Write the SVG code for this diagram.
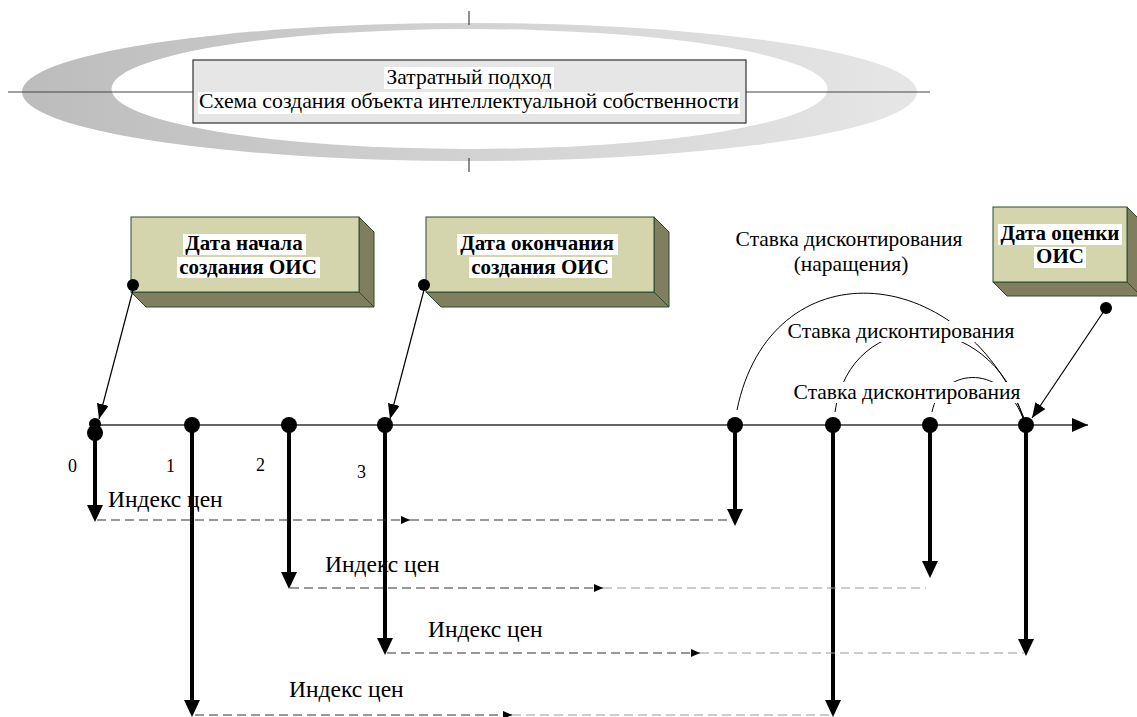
<svg xmlns="http://www.w3.org/2000/svg" width="1137" height="717" viewBox="0 0 1137 717">
<style>
.ser{font-family:"Liberation Serif","DejaVu Serif","Times New Roman",serif;fill:#000}
.t20{font-size:21.5px}
.b20{font-size:21px;font-weight:bold}
.lbl{font-size:21.5px}
.idx{font-size:23.5px}
.num{font-size:18px}
.face{fill:#d5d5ad;stroke:#2e4a2e;stroke-width:1}
.side{fill:#7f7f60;stroke:#2e4a2e;stroke-width:1}
.thick{stroke:#000;stroke-width:4;fill:none}
.ptr{stroke:#000;stroke-width:1.2;fill:none}
.dk{stroke:#333;stroke-width:1.2;stroke-dasharray:9 5;fill:none}
.lt{stroke:#999;stroke-width:1.2;stroke-dasharray:9 5;fill:none}
.arc{stroke:#000;stroke-width:1;fill:none}
.wb{fill:#fff}
</style>
<defs>
<linearGradient id="eg" x1="0" y1="0" x2="1" y2="0">
<stop offset="0" stop-color="#bcbcbc"/>
<stop offset="0.5" stop-color="#d2d2d2"/>
<stop offset="1" stop-color="#e6e6e6"/>
</linearGradient>
<marker id="ah" markerUnits="userSpaceOnUse" markerWidth="17" markerHeight="16" refX="7" refY="8" orient="auto"><path d="M0,0 L17,8 L0,16 z" fill="#000"/></marker>
<marker id="ax" markerUnits="userSpaceOnUse" markerWidth="16" markerHeight="14" refX="16" refY="7" orient="auto"><path d="M0,0 L16,7 L0,14 z" fill="#000"/></marker>
<marker id="ap" markerUnits="userSpaceOnUse" markerWidth="15" markerHeight="12" refX="15" refY="6" orient="auto"><path d="M0,0 L15,6 L0,12 z" fill="#000"/></marker>
<marker id="am" markerUnits="userSpaceOnUse" markerWidth="9" markerHeight="8" refX="9" refY="4" orient="auto"><path d="M0,0 L9,4 L0,8 z" fill="#000"/></marker>
</defs>

<g id="header">
<ellipse cx="469.5" cy="92" rx="447.5" ry="69" fill="url(#eg)"/>
<ellipse cx="469.5" cy="89" rx="358" ry="60" fill="#fff"/>
<line x1="8" y1="92" x2="930" y2="92" stroke="#444" stroke-width="1.2"/>
<line x1="469" y1="11" x2="469" y2="25" stroke="#444" stroke-width="1.2"/>
<line x1="469" y1="158" x2="469" y2="172" stroke="#444" stroke-width="1.2"/>
<rect x="193" y="60" width="553" height="63" fill="#e6e6e6" stroke="#333" stroke-width="1.2"/>
<rect class="wb" x="384" y="67" width="170" height="22"/>
<rect class="wb" x="198" y="92" width="542" height="22"/>
<text class="ser t20" x="469" y="84" text-anchor="middle">Затратный подход</text>
<text class="ser t20" x="469" y="108" text-anchor="middle" textLength="540" lengthAdjust="spacingAndGlyphs">Схема создания объекта интеллектуальной собственности</text>
</g>

<g id="node-start">
<polygon class="side" points="131,292 146,307 374,307 359,292"/>
<polygon class="side" points="359,217 374,232 374,307 359,292"/>
<rect class="face" x="131" y="217" width="228" height="75"/>
<rect class="wb" x="183" y="234" width="123" height="21"/>
<rect class="wb" x="177" y="257" width="143" height="21"/>
<text class="ser b20" x="244" y="250" text-anchor="middle">Дата начала</text>
<text class="ser b20" x="248" y="274" text-anchor="middle">создания ОИС</text>
<circle cx="133" cy="285" r="6"/>
</g>

<g id="node-end">
<polygon class="side" points="426,292 441,307 669,307 654,292"/>
<polygon class="side" points="654,217 669,232 669,307 654,292"/>
<rect class="face" x="426" y="217" width="228" height="75"/>
<rect class="wb" x="457" y="234" width="161" height="21"/>
<rect class="wb" x="469" y="257" width="143" height="21"/>
<text class="ser b20" x="537" y="250" text-anchor="middle">Дата окончания</text>
<text class="ser b20" x="540" y="274" text-anchor="middle">создания ОИС</text>
<circle cx="424" cy="285" r="6"/>
</g>

<g id="node-valuation">
<polygon class="side" points="993,282 1007,296 1141,296 1127,282"/>
<polygon class="side" points="1127,207 1141,221 1141,296 1127,282"/>
<rect class="face" x="993" y="207" width="134" height="75"/>
<rect class="wb" x="998" y="224" width="124" height="21"/>
<rect class="wb" x="1034" y="247" width="52" height="21"/>
<text class="ser b20" x="1060" y="240" text-anchor="middle">Дата оценки</text>
<text class="ser b20" x="1060" y="263" text-anchor="middle">ОИС</text>
<circle cx="1106" cy="308" r="6"/>
</g>

<g id="connectors">
<line x1="95" y1="425" x2="1088" y2="425" stroke="#333" stroke-width="1.5" marker-end="url(#ax)"/>
<line class="ptr" x1="133" y1="290" x2="99" y2="419" marker-end="url(#ap)"/>
<line class="ptr" x1="424" y1="290" x2="390" y2="419" marker-end="url(#ap)"/>
<line class="ptr" x1="1106" y1="308" x2="1032" y2="418" marker-end="url(#ap)"/>
<path class="arc" d="M737,410 C770,248 960,258 1024,418"/>
<path class="arc" d="M835,412 C850,305 990,305 1023,418"/>
<path class="arc" d="M932,412 C940,370 1000,360 1023,418"/>
<line class="thick" x1="95" y1="432" x2="95" y2="512" marker-end="url(#ah)"/>
<line class="thick" x1="192" y1="425" x2="192" y2="707" marker-end="url(#ah)"/>
<line class="thick" x1="289" y1="425" x2="289" y2="579" marker-end="url(#ah)"/>
<line class="thick" x1="385" y1="425" x2="385" y2="645" marker-end="url(#ah)"/>
<line class="thick" x1="735" y1="425" x2="735" y2="516" marker-end="url(#ah)"/>
<line class="thick" x1="833" y1="425" x2="833" y2="707" marker-end="url(#ah)"/>
<line class="thick" x1="930" y1="425" x2="930" y2="568" marker-end="url(#ah)"/>
<line class="thick" x1="1026" y1="425" x2="1026" y2="646" marker-end="url(#ah)"/>
<line class="dk" x1="97" y1="520" x2="410" y2="520" marker-end="url(#am)"/>
<line class="dk" x1="410" y1="520" x2="733" y2="520"/>
<line class="dk" x1="290" y1="588" x2="603" y2="588" marker-end="url(#am)"/>
<line class="lt" x1="603" y1="588" x2="926" y2="588"/>
<line class="dk" x1="387" y1="653" x2="700" y2="653" marker-end="url(#am)"/>
<line class="lt" x1="700" y1="653" x2="1024" y2="653"/>
<line class="dk" x1="195" y1="715" x2="512" y2="715" marker-end="url(#am)"/>
<line class="lt" x1="512" y1="715" x2="831" y2="715"/>
</g>

<g id="timeline-points">
<circle cx="95" cy="424" r="6"/>
<circle cx="95" cy="433" r="8"/>
<circle cx="192" cy="425" r="8"/>
<circle cx="289" cy="425" r="8"/>
<circle cx="385" cy="425" r="8"/>
<circle cx="735" cy="425" r="8"/>
<circle cx="833" cy="425" r="8"/>
<circle cx="930" cy="425" r="8"/>
<circle cx="1026" cy="425" r="8"/>
</g>

<g id="labels">
<text class="ser num" x="68" y="472">0</text>
<text class="ser num" x="166" y="472">1</text>
<text class="ser num" x="256" y="471">2</text>
<text class="ser num" x="357" y="478">3</text>
<text class="ser idx" x="108" y="507">Индекс цен</text>
<text class="ser idx" x="325" y="572">Индекс цен</text>
<text class="ser idx" x="428" y="637">Индекс цен</text>
<text class="ser idx" x="289" y="697">Индекс цен</text>
<text class="ser lbl" x="849" y="246" text-anchor="middle">Ставка дисконтирования</text>
<text class="ser lbl" x="851" y="271" text-anchor="middle">(наращения)</text>
<rect class="wb" x="786" y="321" width="230" height="21"/>
<text class="ser lbl" x="901" y="338" text-anchor="middle">Ставка дисконтирования</text>
<rect class="wb" x="791" y="382" width="232" height="21"/>
<text class="ser lbl" x="907" y="399" text-anchor="middle">Ставка дисконтирования</text>
</g>
</svg>
